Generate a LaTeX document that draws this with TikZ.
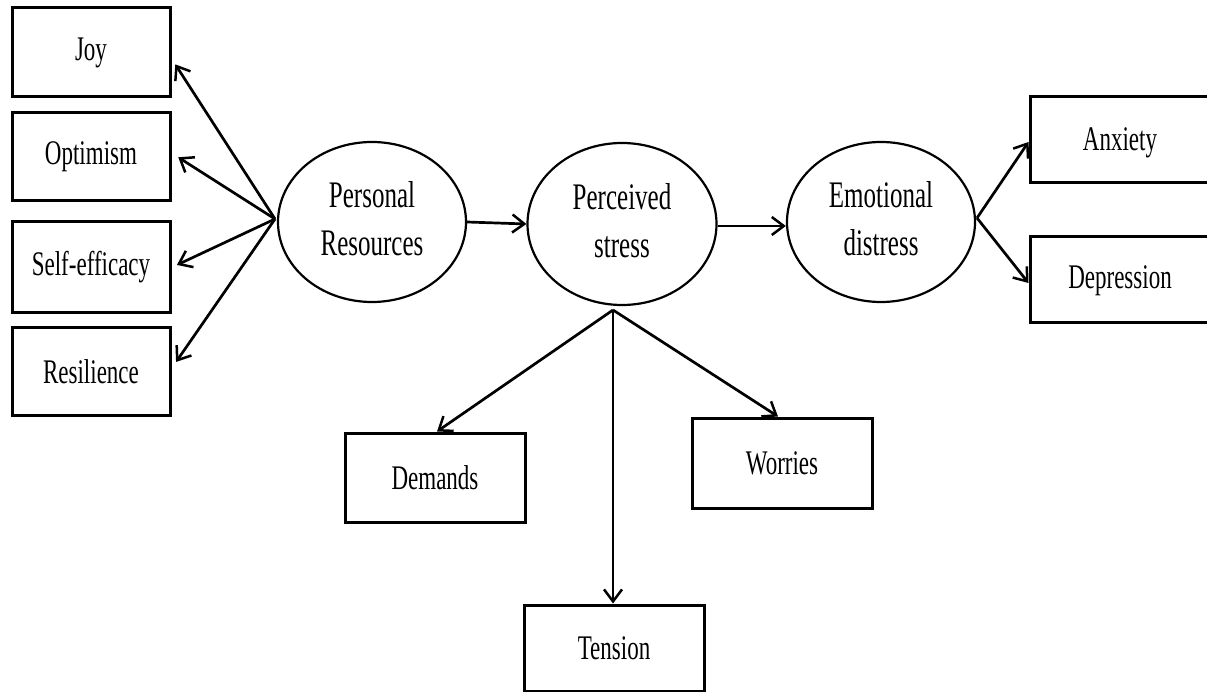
\documentclass[tikz,border=0pt]{standalone}
\usepackage{fontspec}
\setmainfont{Liberation Serif}
\usepackage{graphicx}
\usetikzlibrary{arrows.meta,shapes.geometric}
\newcommand{\boxtxt}[1]{\scalebox{1}[1.5]{#1}}
\newcommand{\elltxt}[2]{\scalebox{1}[1.5]{\begin{tabular}{@{}c@{}}#1\\#2\end{tabular}}}
\tikzset{
  itembox/.style={draw=black, line width=3pt, rectangle, inner sep=0pt,
    font=\fontsize{23}{27}\selectfont},
  latent/.style={draw=black, line width=2.2pt, ellipse, inner sep=0pt,
    minimum width=188pt, minimum height=160pt,
    font=\fontsize{25}{32}\selectfont},
  link/.style={draw=black, line width=2.7pt, -{Straight Barb[length=12pt,width=18pt,line width=2.5pt]}}
}
\begin{document}
\begin{tikzpicture}[x=1pt,y=-1pt]
\useasboundingbox (0,0) rectangle (1207,692);
% left indicator boxes
\node[itembox, minimum width=158pt, minimum height=89pt] (joy) at (91,52.5) {\boxtxt{Joy}};
\node[itembox, minimum width=158pt, minimum height=88pt] (opt) at (91,157) {\boxtxt{Optimism}};
\node[itembox, minimum width=158pt, minimum height=91pt] (self) at (91,267.5) {\boxtxt{Self-efficacy}};
\node[itembox, minimum width=158pt, minimum height=87pt] (res) at (91,371.5) {\boxtxt{Resilience}};
% latent ellipses
\node[latent] (pr) at (372,222) {\elltxt{Personal}{Resources}};
\node[latent, minimum height=162pt, minimum width=189pt] (ps) at (622,224) {\elltxt{Perceived}{stress}};
\node[latent] (ed) at (881,222) {\elltxt{Emotional}{distress}};
% right boxes (cut at right page edge)
\node[itembox, minimum width=200pt, minimum height=86pt] (anx) at (1130,140) {};
\node[itembox, minimum width=200pt, minimum height=86pt] (dep) at (1130,280) {};
\node at (1120,143) {\fontsize{23}{27}\selectfont\boxtxt{Anxiety}};
\node at (1120,281) {\fontsize{23}{27}\selectfont\boxtxt{Depression}};
% bottom boxes
\node[itembox, minimum width=180pt, minimum height=89pt] (dem) at (435,477.5) {\boxtxt{Demands}};
\node[itembox, minimum width=180pt, minimum height=90pt] (wor) at (782,463) {\boxtxt{Worries}};
\node[itembox, minimum width=180pt, minimum height=86pt] (ten) at (614,648) {\boxtxt{Tension}};
% fan points
\coordinate (prL) at (275,219);
\coordinate (psB) at (613,310);
\coordinate (edR) at (977,218);
% connectors
\draw[link, shorten >=7pt] (prL) -- ([yshift=-6pt]joy.east);
\draw[link, shorten >=8pt] (prL) -- ([yshift=4pt]opt.east);
\draw[link, shorten >=6pt] (prL) -- (self.east);
\draw[link, shorten >=8pt] (prL) -- ([yshift=3pt]res.east);
\draw[link] (pr.east) -- (ps.west);
\draw[link] ([yshift=-2pt]ps.east) -- ([yshift=-2pt]ps.east -| ed.west);
\draw[link] (edR) -- ([yshift=-2pt]anx.west);
\draw[link] (edR) -- ([yshift=-3pt]dep.west);
\draw[link] (psB) -- ([xshift=2pt]dem.north);
\draw[link] (psB) -- ([xshift=-4pt]wor.north);
\draw[link] (psB) -- (psB |- ten.north);
\end{tikzpicture}
\end{document}
